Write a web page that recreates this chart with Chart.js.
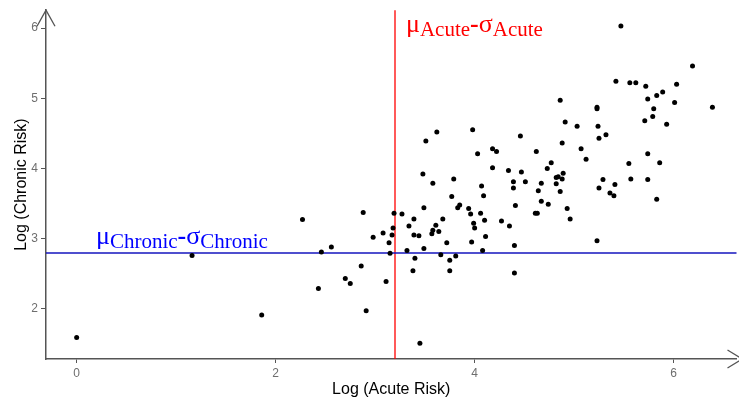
<!DOCTYPE html>
<html>
<head>
<meta charset="utf-8">
<script src="https://cdn.jsdelivr.net/npm/chart.js@4.4.0/dist/chart.umd.min.js"></script>
<style>
  body { margin: 0; background: #fff; }
</style>
</head>
<body>
<canvas id="myChart" width="739" height="403"></canvas>
<script>
// log acute risk (x) and log chronic risk (y), one entry per chemical
const acuteRisk = [
  0.00, 1.16, 1.86, 2.27, 2.43, 2.46, 2.56, 2.70, 2.75, 2.86, 2.88, 2.91, 2.98, 3.08, 3.11, 3.14,
  3.15, 3.17, 3.18, 3.19, 3.27, 3.32, 3.34, 3.38, 3.39, 3.39, 3.40, 3.44, 3.45, 3.49, 3.49, 3.57,
  3.58, 3.61, 3.64, 3.66, 3.68, 3.72, 3.75, 3.75, 3.81, 3.83, 3.85, 3.94, 3.96, 3.99, 4.00, 3.97,
  4.06, 4.08, 4.10, 4.11, 3.62, 3.51, 3.98, 4.03, 4.18, 4.22, 4.18, 3.48, 3.58, 3.79, 4.07, 3.77,
  4.09, 4.91, 4.88, 4.46, 4.62, 4.77, 4.73, 4.34, 4.47, 4.89, 4.82, 4.84, 4.88, 4.39, 4.51, 4.39,
  4.67, 4.82, 4.64, 4.86, 4.41, 4.27, 4.35, 4.61, 4.63, 4.67, 4.74, 4.93, 4.96, 4.40, 4.40, 5.23,
  5.47, 6.19, 5.42, 5.56, 5.62, 5.72, 6.03, 5.74, 5.83, 5.89, 6.01, 6.39, 5.80, 5.79, 5.71, 5.93,
  4.86, 5.23, 5.23, 5.03, 5.24, 5.25, 5.32, 5.07, 5.12, 5.74, 5.55, 5.86, 5.29, 5.25, 5.41, 5.57,
  5.74, 5.36, 5.40, 5.83
];
const chronicRisk = [
  1.59, 2.76, 1.91, 3.27, 2.29, 2.81, 2.88, 2.43, 2.36, 2.61, 3.37, 1.97, 3.02, 3.08, 2.39, 2.94,
  2.79, 3.05, 3.15, 3.36, 3.35, 2.83, 3.18, 2.54, 3.28, 3.05, 2.72, 3.04, 1.51, 3.44, 2.86, 3.07,
  3.12, 3.19, 3.10, 2.77, 3.28, 2.94, 2.69, 2.54, 2.75, 3.44, 3.48, 3.43, 3.35, 3.22, 3.15, 2.95,
  3.36, 2.83, 3.26, 3.03, 4.52, 4.39, 4.55, 4.21, 4.28, 4.24, 4.01, 3.92, 3.79, 3.85, 3.75, 3.60,
  3.61, 4.66, 4.36, 4.46, 4.24, 4.08, 4.00, 3.97, 3.95, 3.93, 3.87, 3.88, 3.85, 3.81, 3.81, 3.72,
  3.79, 3.78, 3.68, 3.67, 3.47, 3.25, 3.18, 3.36, 3.36, 3.53, 3.49, 3.43, 3.28, 2.90, 2.51, 2.97,
  6.03, 5.46, 5.24, 5.22, 5.22, 5.17, 5.20, 4.99, 5.04, 5.09, 4.94, 4.87, 4.85, 4.74, 4.68, 4.63,
  4.97, 4.85, 4.87, 4.60, 4.60, 4.43, 4.48, 4.28, 4.13, 4.21, 4.07, 4.08, 3.84, 3.72, 3.77, 3.85,
  3.84, 3.65, 3.61, 3.56
];

const xTicks = [0, 2, 4, 6];
const yTicks = [2, 3, 4, 5, 6];
const xRange = [-0.308, 6.632];
const yRange = [1.284, 6.254];

// mean minus one sd cut-offs
const acuteCut = 3.2;
const chronicCut = 2.8;
const acuteSub = 'Acute';
const chronicSub = 'Chronic';

const axisColor = '#555555';
const sans = '"Liberation Sans", Arial, sans-serif';
const serif = '"Liberation Serif", "Times New Roman", serif';

let points = acuteRisk.map((x, i) => ({ x: x, y: chronicRisk[i] }));

// draws  μ_sub - σ_sub  starting at x, with B as baseline of the greek letters
function muSigma(ctx, x, B, sub, color) {
  ctx.fillStyle = color;
  ctx.textBaseline = 'alphabetic';
  ctx.textAlign = 'left';
  let big = '26px ' + serif;
  let small = '21px ' + serif;
  let parts = [['\u03bc', big, 0], [sub, small, 4], ['-', 'bold ' + big, 0], ['\u03c3', big, 0], [sub, small, 4]];
  parts.forEach(p => {
    ctx.font = p[1];
    ctx.fillText(p[0], x, B + p[2]);
    x += ctx.measureText(p[0]).width;
  });
}

const cutLines = {
  id: 'cutLines',
  beforeDatasetsDraw(chart) {
    let ctx = chart.ctx;
    let a = chart.chartArea;
    let xs = chart.scales.x, ys = chart.scales.y;
    let px = Math.round(xs.getPixelForValue(acuteCut));
    let py = Math.round(ys.getPixelForValue(chronicCut));
    ctx.save();
    ctx.globalAlpha = 1;
    ctx.setLineDash([]);
    ctx.lineWidth = 1.3;
    ctx.strokeStyle = 'rgb(255,0,0)';
    ctx.beginPath();
    ctx.moveTo(px, a.top);
    ctx.lineTo(px, a.bottom);
    ctx.stroke();
    ctx.lineWidth = 1.3;
    ctx.strokeStyle = 'rgb(20,20,190)';
    ctx.beginPath();
    ctx.moveTo(a.left, py);
    ctx.lineTo(a.right, py);
    ctx.stroke();
    muSigma(ctx, px + 11, a.top + 22, acuteSub, 'rgb(255,0,0)');
    muSigma(ctx, a.left + 50, py - 9, chronicSub, 'rgb(0,0,255)');
    ctx.restore();
  },
  afterDraw(chart) {
    // open arrow heads at the ends of both axes
    let ctx = chart.ctx;
    let a = chart.chartArea;
    ctx.save();
    ctx.strokeStyle = axisColor;
    ctx.lineWidth = 1.3;
    ctx.beginPath();
    ctx.moveTo(a.left - 9, a.top + 16);
    ctx.lineTo(a.left, a.top);
    ctx.lineTo(a.left + 9, a.top + 16);
    ctx.moveTo(a.right - 9, a.bottom - 9);
    ctx.lineTo(a.right + 6, a.bottom);
    ctx.lineTo(a.right - 9, a.bottom + 9);
    ctx.stroke();
    ctx.restore();
  }
};

var ctx = document.getElementById('myChart').getContext('2d');
var chart = new Chart(ctx, {
  type: 'scatter',
  data: {
    datasets: [{
      data: points,
      backgroundColor: '#000',
      borderWidth: 0,
      pointRadius: 2.5,
      pointHoverRadius: 2.5
    }]
  },
  options: {
    responsive: false,
    animation: false,
    layout: { padding: { top: 7, right: 0, left: 0, bottom: 0 } },
    plugins: { legend: { display: false }, tooltip: { enabled: false } },
    scales: {
      x: {
        type: 'linear',
        min: xRange[0],
        max: xRange[1],
        afterBuildTicks: s => { s.ticks = xTicks.map(v => ({ value: v })); },
        afterFit: s => { s.height = 44; },
        grid: { drawOnChartArea: false, tickLength: 4, tickColor: axisColor, color: axisColor },
        border: { color: axisColor, width: 1.5 },
        ticks: { color: '#6e6e6e', font: { family: sans, size: 12 }, padding: 3, maxRotation: 0 },
        title: { display: true, text: 'Log (Acute Risk)', color: '#000', font: { family: sans, size: 16 }, padding: { top: 0, bottom: 4 } }
      },
      y: {
        type: 'linear',
        min: yRange[0],
        max: yRange[1],
        afterBuildTicks: s => { s.ticks = yTicks.map(v => ({ value: v })); },
        afterFit: s => { s.width = 46; },
        grid: { drawOnChartArea: false, tickLength: 5, tickColor: axisColor, color: axisColor },
        border: { color: axisColor, width: 1.5 },
        ticks: { color: '#6e6e6e', font: { family: sans, size: 12 }, padding: 3 },
        title: { display: true, text: 'Log (Chronic Risk)', color: '#000', font: { family: sans, size: 16 }, padding: { top: 12, bottom: 0 } }
      }
    }
  },
  plugins: [cutLines]
});
</script>
</body>
</html>
